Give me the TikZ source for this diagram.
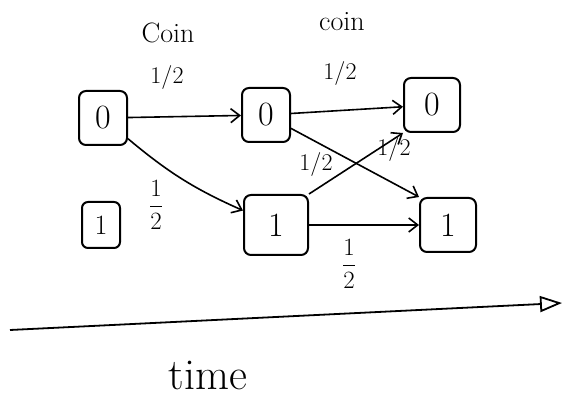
\documentclass[tikz,border=0pt]{standalone}
\usepackage{fontspec}
\usetikzlibrary{arrows.meta}
\begin{document}
\begin{tikzpicture}[x=1pt,y=-1pt,
  state/.style={draw,line width=2pt,rounded corners=7pt,minimum width=48pt,minimum height=54pt,font=\fontsize{34}{34}\selectfont},
  smallstate/.style={draw,line width=2pt,rounded corners=6pt,minimum width=38pt,minimum height=46pt,font=\fontsize{28}{28}\selectfont},
  edge/.style={line width=1.6pt,-{Straight Barb[length=9pt,width=14pt,line width=1.6pt]}},
  lab/.style={font=\fontsize{28}{28}\selectfont},
  frac/.style={font=\fontsize{24}{24}\selectfont}]
\useasboundingbox (0,0) rectangle (566,403);
\node[state] (a0) at (103,118) {0};
\node[smallstate] (a1) at (101,225) {1};
\node[state] (b0) at (266,115) {0};
\node[state,minimum width=64pt,minimum height=60pt] (b1) at (276,225) {1};
\node[state,minimum width=56pt] (c0) at (432,105) {0};
\node[state,minimum width=56pt] (c1) at (448,225) {1};
\node[lab] (coin1) at (168,33) {Coin};
\node[lab] (coin2) at (342,22) {coin};
\draw[edge] (a0) -- (b0);
\draw[edge] (a0) to[bend right=8] (b1);
\draw[edge] (b0) -- (c0);
\draw[edge] (b0) -- (c1.north west);
\draw[edge] (b1.north east) -- (c0.south west);
\draw[edge] (b1) -- (c1);
\node[frac] (l1) at (167,78) {1/2};
\node[frac] (l2) at (340,74) {1/2};
\node[frac] (l3) at (156,205) {$\displaystyle\frac{1}{2}$};
\node[frac] (l4) at (316,165) {1/2};
\node[frac] (l5) at (394,150) {1/2};
\node[frac] (l6) at (349,264) {$\displaystyle\frac{1}{2}$};
\coordinate (t0) at (10,330);
\coordinate (t1) at (562,303);
\draw[line width=1.8pt,-{Triangle[open,length=22pt,width=16pt,line width=1.8pt]}] (t0) -- (t1);
\node[font=\fontsize{44}{44}\selectfont] (time) at (208,375) {time};
\end{tikzpicture}
\end{document}
